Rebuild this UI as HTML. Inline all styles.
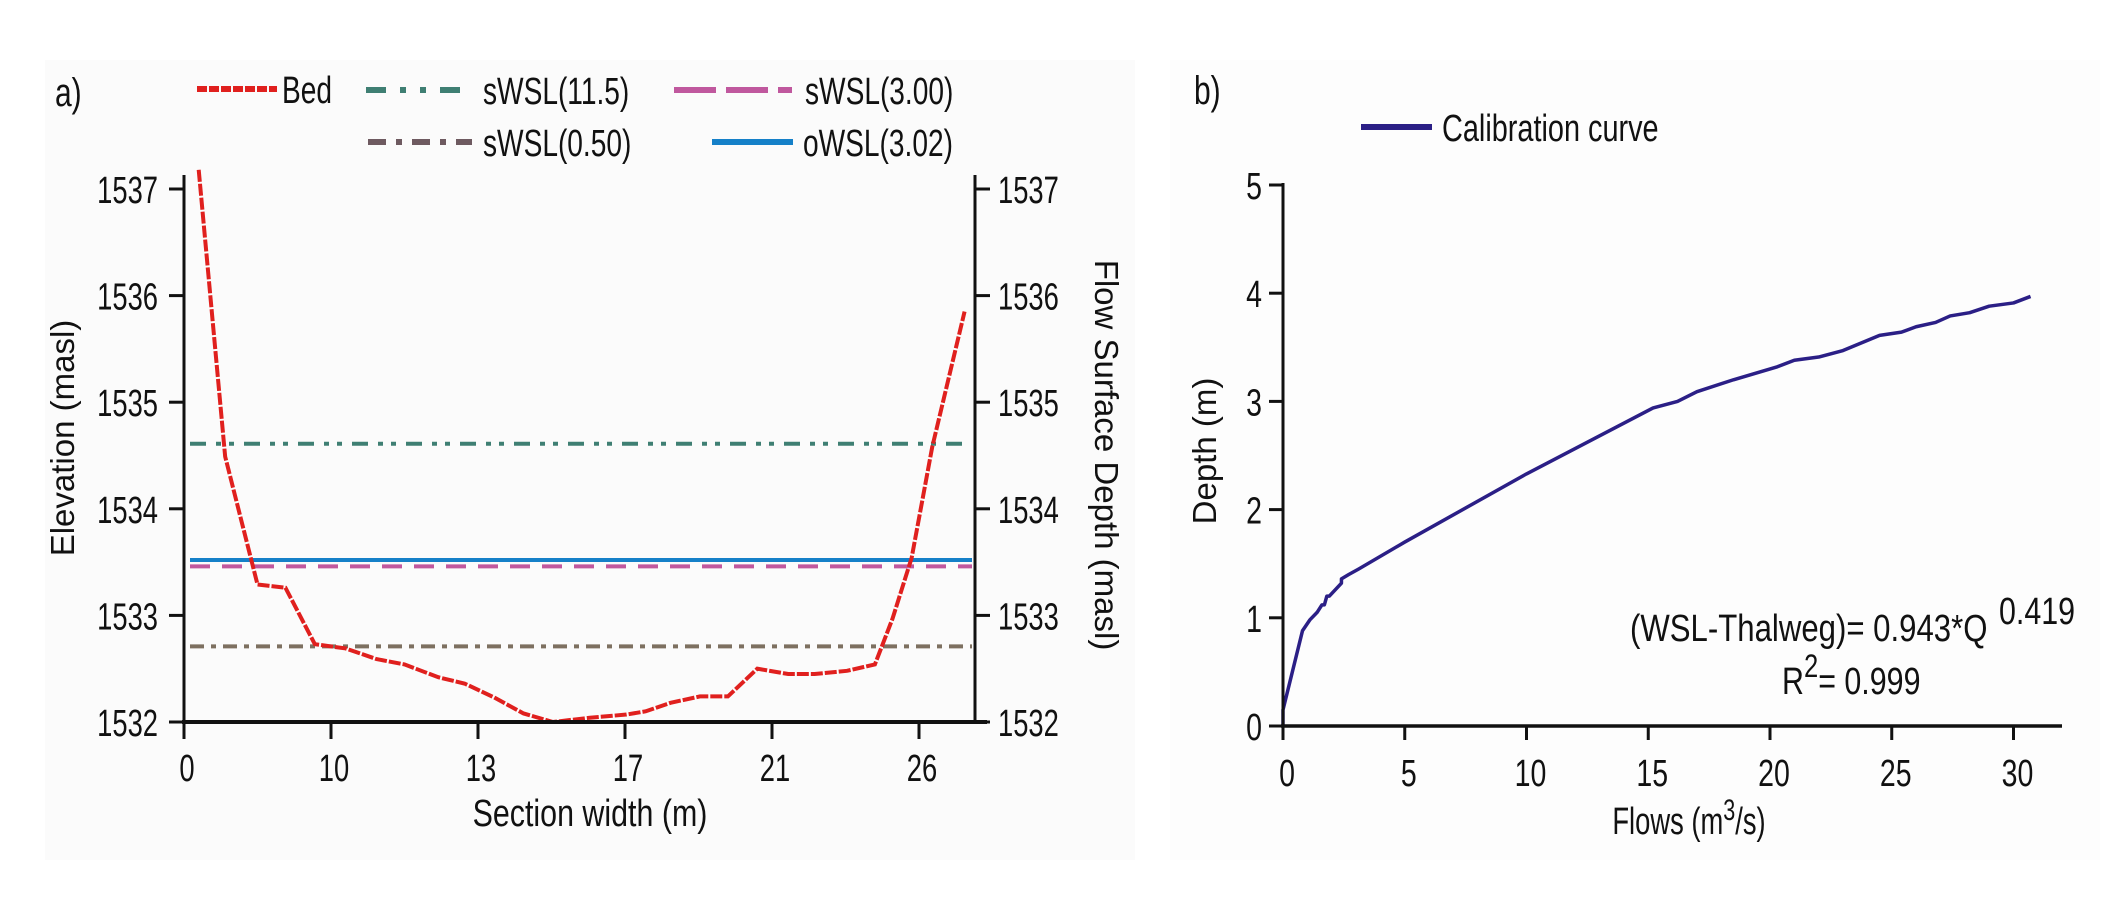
<!DOCTYPE html>
<html><head><meta charset="utf-8"><style>
html,body{margin:0;padding:0;background:#fff;}
svg{display:block;}
text{font-family:"Liberation Sans",sans-serif;fill:#111;}
</style></head><body>
<svg id="svg" width="2128" height="912" viewBox="0 0 2128 912" xmlns="http://www.w3.org/2000/svg">
<rect x="0" y="0" width="2128" height="912" fill="#ffffff"/>
<rect x="45" y="60" width="1090" height="800" fill="#fbfbfb"/>
<rect x="1170" y="60" width="930" height="800" fill="#fdfdfd"/>
<g id="ga"></g>
<g id="gb"></g>
</svg>
<script>
// ---------- Panel a data ----------
const xTickLabelsA = ["0","10","13","17","21","26"];
const yTicksA = [1532,1533,1534,1535,1536,1537];
const bedX = [0.10,0.28,0.50,0.69,0.89,1.10,1.31,1.50,1.73,1.91,2.11,2.31,2.51,2.76,3.01,3.14,3.31,3.51,3.70,3.90,4.11,4.29,4.51,4.70,4.82,4.95,5.09,5.31];
const bedElev = [1537.18,1534.49,1533.29,1533.26,1532.73,1532.69,1532.59,1532.54,1532.42,1532.36,1532.23,1532.08,1532.0,1532.04,1532.07,1532.10,1532.18,1532.24,1532.24,1532.50,1532.45,1532.45,1532.48,1532.54,1532.97,1533.54,1534.58,1535.85];
const wslNames = ["sWSL(11.5)","oWSL(3.02)","sWSL(3.00)","sWSL(0.50)"];
const wslLevels = [1534.61,1533.52,1533.46,1532.71];
// ---------- Panel b data ----------
const xTicksB = [0,5,10,15,20,25,30];
const yTicksB = [0,1,2,3,4,5];
const flowQ = [0,0,0.8,1.1,1.4,1.6,1.7,1.8,1.9,2.4,2.4,2.7,3.1,5,10,15.2,16.2,17,18.5,20.3,21,22,23,24.5,25.4,26,26.8,27.4,28.2,29,30,30.7];
const flowDepth = [0,0.15,0.88,0.98,1.05,1.12,1.12,1.2,1.2,1.32,1.36,1.40,1.45,1.7,2.33,2.94,3.0,3.09,3.2,3.32,3.38,3.41,3.47,3.61,3.64,3.69,3.73,3.79,3.82,3.88,3.91,3.97];

const NS="http://www.w3.org/2000/svg";
function mk(parent,tag,attrs){const e=document.createElementNS(NS,tag);for(const k in attrs)e.setAttribute(k,attrs[k]);parent.appendChild(e);return e;}
function txt(parent,x,y,s,size,anchor,sx,rot){
  const t=mk(parent,'text',{'font-size':size,'text-anchor':anchor||'start',transform:`translate(${x},${y}) rotate(${rot||0}) scale(${sx||1},1)`});
  t.textContent=s;return t;
}
const ga=document.getElementById('ga'), gb=document.getElementById('gb');

const AX0=184, AX1=975, AY0=722, AY1=175;
const xA=u=>AX0+u*147;
const yA=v=>AY0-(v-1532)*106.6;

let t=txt(ga,55,106,"a)",40,'start',0.75);


const wslStyles={"sWSL(11.5)":{c:'#3f7f73',d:'16 10 5 8 5 10'},"oWSL(3.02)":{c:'#1580c8',d:''},"sWSL(3.00)":{c:'#c0589e',d:'20 12'},"sWSL(0.50)":{c:'#7d7060',d:'14 7 5 7'}};
wslNames.forEach((n,i)=>{
  const st=wslStyles[n];
  const l=mk(ga,'line',{x1:190,x2:972,y1:yA(wslLevels[i]),y2:yA(wslLevels[i]),stroke:st.c,'stroke-width':4,'stroke-dasharray':st.d});
  
  
});
const bed=mk(ga,'polyline',{points:bedX.map((x,i)=>xA(x)+','+yA(bedElev[i])).join(' '),fill:'none',stroke:'#e0201e','stroke-width':4,'stroke-dasharray':'12 2'});



let ax=mk(ga,'line',{x1:AX0,x2:AX0,y1:AY1,y2:AY0+2,stroke:'#111','stroke-width':3});

ax=mk(ga,'line',{x1:AX1,x2:AX1,y1:AY1,y2:AY0+2,stroke:'#111','stroke-width':3});

ax=mk(ga,'line',{x1:AX0-2,x2:AX1+12,y1:AY0,y2:AY0,stroke:'#111','stroke-width':4});

yTicksA.forEach(v=>{
  const y=yA(v);
  mk(ga,'line',{x1:AX0-15,x2:AX0,y1:y,y2:y,stroke:'#111','stroke-width':3});
  mk(ga,'line',{x1:AX1,x2:AX1+15,y1:y,y2:y,stroke:'#111','stroke-width':3});
  let l=txt(ga,158,y+14,String(v),38,'end',0.72);
  
  l=txt(ga,998,y+14,String(v),38,'start',0.72);
  
});
xTickLabelsA.forEach((s,i)=>{
  const x=xA(i);
  mk(ga,'line',{x1:x,x2:x,y1:AY0,y2:AY0+17,stroke:'#111','stroke-width':3});
  const l=txt(ga,x+3,781,s,38,'middle',0.72);
  
});
t=txt(ga,590,826,"Section width (m)",38,'middle',0.8);

t=txt(ga,74,438,"Elevation (masl)",33,'middle',1,-90);

t=txt(ga,1095,455,"Flow Surface Depth (masl)",33,'middle',1,90);


const legA=mk(ga,'g',{});

function legEntry(g,x1,x2,y,c,d,w,label,tx){
  const e=mk(g,'g',{});
  
  
  mk(e,'line',{x1:x1,x2:x2,y1:y,y2:y,stroke:c,'stroke-width':w,'stroke-dasharray':d});
  txt(e,tx,y+14,label,38,'start',0.74);
}
legEntry(legA,197,277,89,'#e0201e','10 2',6,'Bed',282);
legEntry(legA,366,466,90,'#3f7f73','20 14 6 14 6 14',6,'sWSL(11.5)',483);
legEntry(legA,674,792,90,'#c0589e','42 10',6,'sWSL(3.00)',805);
legEntry(legA,368,472,142,'#6e5a60','18 10 6 10',6,'sWSL(0.50)',483);
legEntry(legA,712,793,142,'#1580c8','',6,'oWSL(3.02)',803);

const BX0=1283, BY0=726;
const xB=q=>BX0+q*24.35;
const yB=d=>BY0-d*108.2;
t=txt(gb,1194,104,"b)",40,'start',0.75);

const curve=mk(gb,'polyline',{points:flowQ.map((q,i)=>xB(q)+','+yB(flowDepth[i])).join(' '),fill:'none',stroke:'#2b1f86','stroke-width':3.5,'stroke-linejoin':'round'});


ax=mk(gb,'line',{x1:BX0,x2:BX0,y1:yB(5)-2,y2:BY0+2,stroke:'#111','stroke-width':3});

ax=mk(gb,'line',{x1:BX0-2,x2:2062,y1:BY0,y2:BY0,stroke:'#111','stroke-width':3.5});

yTicksB.forEach(v=>{
  const y=yB(v);
  mk(gb,'line',{x1:BX0-14,x2:BX0,y1:y,y2:y,stroke:'#111','stroke-width':3});
  const l=txt(gb,1262,y+14,String(v),38,'end',0.75);
  
});
xTicksB.forEach(v=>{
  const x=xB(v);
  mk(gb,'line',{x1:x,x2:x,y1:BY0,y2:BY0+14,stroke:'#111','stroke-width':3});
  const l=txt(gb,x+4,786,String(v),38,'middle',0.75);
  
});
t=mk(gb,'text',{'font-size':38,'text-anchor':'middle',transform:'translate(1689,834) scale(0.72,1)'});
t.innerHTML='Flows (m<tspan dy="-14" font-size="30">3</tspan><tspan dy="14">/s)</tspan>';

t=txt(gb,1216,451,"Depth (m)",33,'middle',1,-90);

t=txt(gb,1630,641,"(WSL-Thalweg)= 0.943*Q",38,'start',0.82);

t=txt(gb,1999,624,"0.419",38,'start',0.8);

t=mk(gb,'text',{'font-size':38,transform:'translate(1782,694) scale(0.8,1)'});
t.innerHTML='R<tspan dy="-17" font-size="32">2</tspan><tspan dy="17">= 0.999</tspan>';

const legB=mk(gb,'g',{});

mk(legB,'line',{x1:1361,x2:1432,y1:127,y2:127,stroke:'#2b1f86','stroke-width':6});
txt(legB,1442,141,"Calibration curve",38,'start',0.76);
</script>
</body></html>
